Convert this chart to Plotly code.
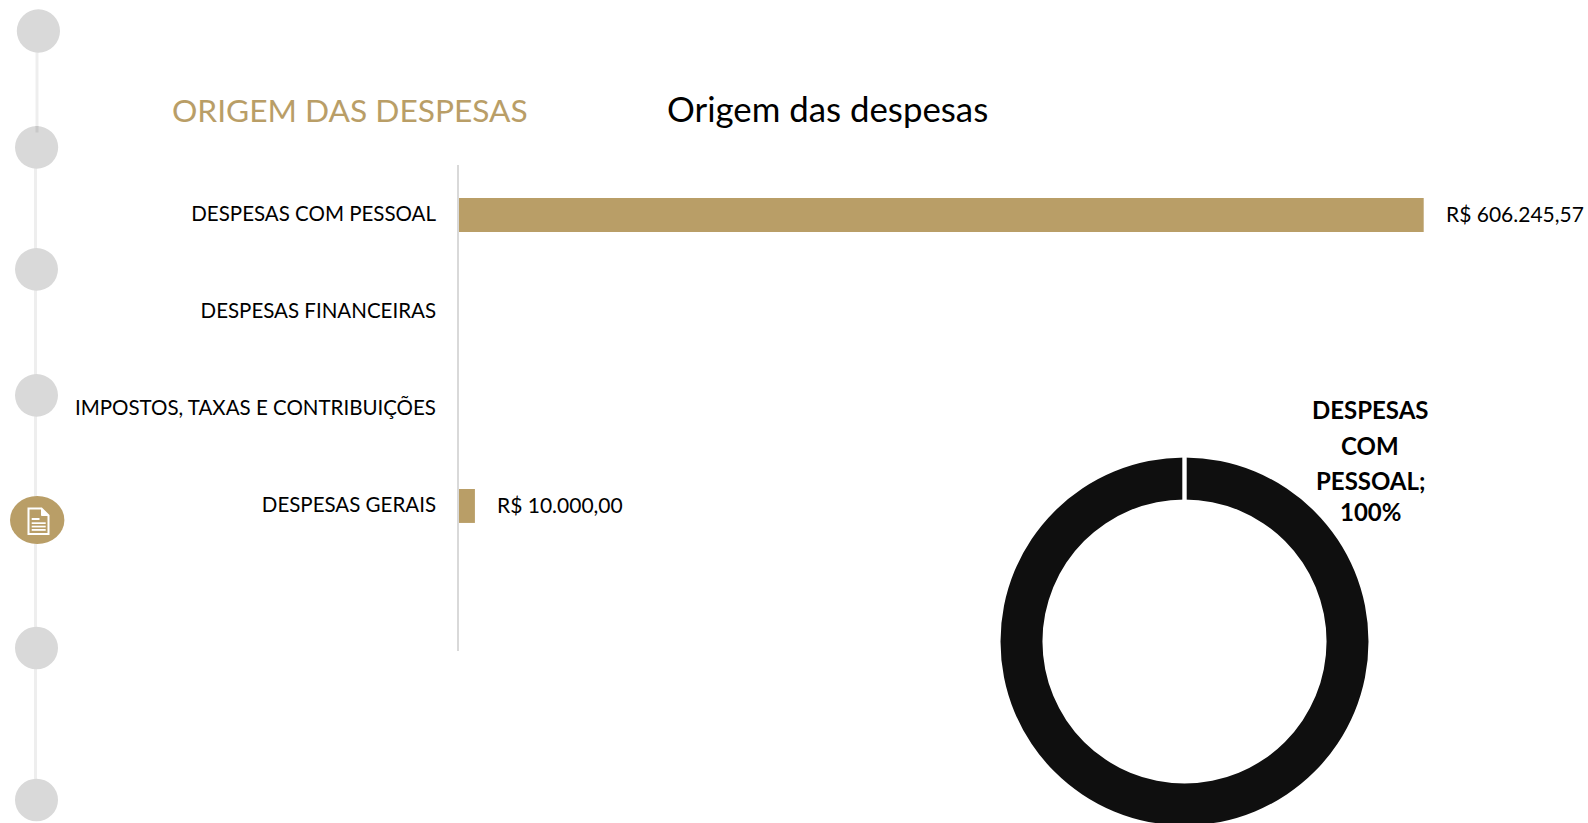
import plotly.graph_objects as go

categories = ["DESPESAS COM PESSOAL", "DESPESAS FINANCEIRAS", "IMPOSTOS, TAXAS E CONTRIBUIÇÕES", "DESPESAS GERAIS", " "]
bar_values = [606245.57, 0, 0, 10000, None]
bar_labels = ["R$ 606.245,57", "", "", "R$ 10.000,00", ""]
pie_labels = ["DESPESAS COM PESSOAL"]
pie_values = [606245.57]
pie_label_lines = ["DESPESAS", "COM", "PESSOAL;", "100%"]
left_title = "ORIGEM DAS DESPESAS"
chart_title = "Origem das despesas"

W, H = 1588, 830
GOLD = "#b99e67"
GREY = "#d9d9d9"
BLACK = "#0f0f0f"
FONT = "Lato"


def px(x):
    return x / W


def py(y):
    return 1 - y / H


def ellipse(x0, y0, x1, y1, color):
    return dict(type="circle", xref="paper", yref="paper", x0=px(x0), x1=px(x1),
                y0=py(y1), y1=py(y0), fillcolor=color, line_width=0, layer="above")


def vline(x, y0, y1, color, width):
    return dict(type="line", xref="paper", yref="paper", x0=px(x), x1=px(x),
                y0=py(y0), y1=py(y1), line=dict(color=color, width=width), layer="above")


def poly(points, close=True):
    d = "M" + " L".join(f"{px(a)},{py(b)}" for a, b in points) + (" Z" if close else "")
    return d


fig = go.Figure()
fig.add_trace(go.Bar(
    x=bar_values, y=categories, orientation="h", marker=dict(color=GOLD, line_width=0),
    width=0.35, offset=-0.16, showlegend=False, hoverinfo="skip",
))
fig.add_trace(go.Pie(
    labels=pie_labels, values=pie_values, hole=0.772, sort=False, direction="clockwise",
    marker=dict(colors=[BLACK], line_width=0), textinfo="none", showlegend=False,
    domain=dict(x=[px(1000.5), px(1368.5)], y=[py(825.5), py(457.5)]), hoverinfo="skip",
))

shapes = [
    vline(37, 50, 134, "#eeeeee", 3),
    vline(35.5, 168, 780, "#eeeeee", 3),
]
for box in [(16.8, 9.3, 60, 52.7), (15, 126, 58.2, 168.7), (15, 248, 58, 290.7),
            (15, 374, 58, 416.7), (15, 626.7, 58, 669.3), (15, 778.7, 58, 821.3)]:
    shapes.append(ellipse(*box, GREY))
shapes.append(vline(37, 126, 132.5, "#c9c9c9", 3))
shapes.append(ellipse(10, 496, 64.4, 544, GOLD))

# document icon on the gold marker: outline, folded corner, text lines
doc = [(28.5, 508.5), (41.5, 508.5), (48.5, 515.5), (48.5, 534), (28.5, 534)]
shapes.append(dict(type="path", xref="paper", yref="paper", path=poly(doc), fillcolor=GOLD,
                   line=dict(color="white", width=2), layer="above"))
shapes.append(dict(type="path", xref="paper", yref="paper",
                   path=poly([(41.5, 508.5), (41.5, 515.5), (48.5, 515.5)]), fillcolor="white",
                   line=dict(color="white", width=1), layer="above"))
for y0, y1, x1 in [(518, 520, 39.5), (522.3, 524, 45.7), (525.7, 527.4, 45.7), (529, 530.8, 45.7)]:
    shapes.append(dict(type="rect", xref="paper", yref="paper", x0=px(31.7), x1=px(x1),
                       y0=py(y1), y1=py(y0), fillcolor="white", line_width=0, layer="above"))

# white seam at the top of the ring
shapes.append(dict(type="rect", xref="paper", yref="paper", x0=px(1182.3), x1=px(1186.7),
                   y0=py(501), y1=py(455), fillcolor="white", line_width=0, layer="above"))
# category axis line
shapes.append(vline(458, 165, 651, "#d9d9d9", 2))

annotations = [
    dict(text=left_title, x=px(170), y=py(109.5), xref="paper", yref="paper", xanchor="left",
         yanchor="middle", showarrow=False, font=dict(family=FONT, size=31.7, color=GOLD)),
    dict(text=chart_title, x=px(665), y=py(109), xref="paper", yref="paper", xanchor="left",
         yanchor="middle", showarrow=False, font=dict(family=FONT, size=34.8, color="#000000")),
]
for v, label, cat in zip(bar_values, bar_labels, categories):
    if label:
        annotations.append(dict(text=label, x=v, y=cat, xref="x", yref="y", xanchor="left", yanchor="middle",
                                xshift=20, showarrow=False, font=dict(family=FONT, size=21, color="#000000")))
for line, y in zip(pie_label_lines, [410, 445, 480, 511]):
    annotations.append(dict(text=f"<b>{line}</b>", x=px(1370), y=py(y), xref="paper", yref="paper",
                            xanchor="center", yanchor="middle", showarrow=False,
                            font=dict(family=FONT, size=24, color="#000000")))

fig.update_layout(
    width=W, height=H, margin=dict(l=0, r=0, t=0, b=0), paper_bgcolor="white", plot_bgcolor="white",
    font=dict(family=FONT, color="#000000"), shapes=shapes, annotations=annotations,
    xaxis=dict(domain=[px(459), px(459 + 964.7 * 650000 / 606245.57)], range=[0, 650000], visible=False),
    yaxis=dict(domain=[py(650), py(165)], range=[4.5, -0.5], type="category", categoryorder="array",
               categoryarray=categories, showgrid=False, zeroline=False, showline=False, ticks="",
               tickfont=dict(family=FONT, size=20.5, color="#000000"), ticklabelstandoff=22, anchor="x"),
)

fig.write_html("out.html", config={"displayModeBar": False},
               post_script="document.body.style.margin='0';document.body.style.overflow='hidden';"
                           "document.documentElement.style.overflow='hidden';")
